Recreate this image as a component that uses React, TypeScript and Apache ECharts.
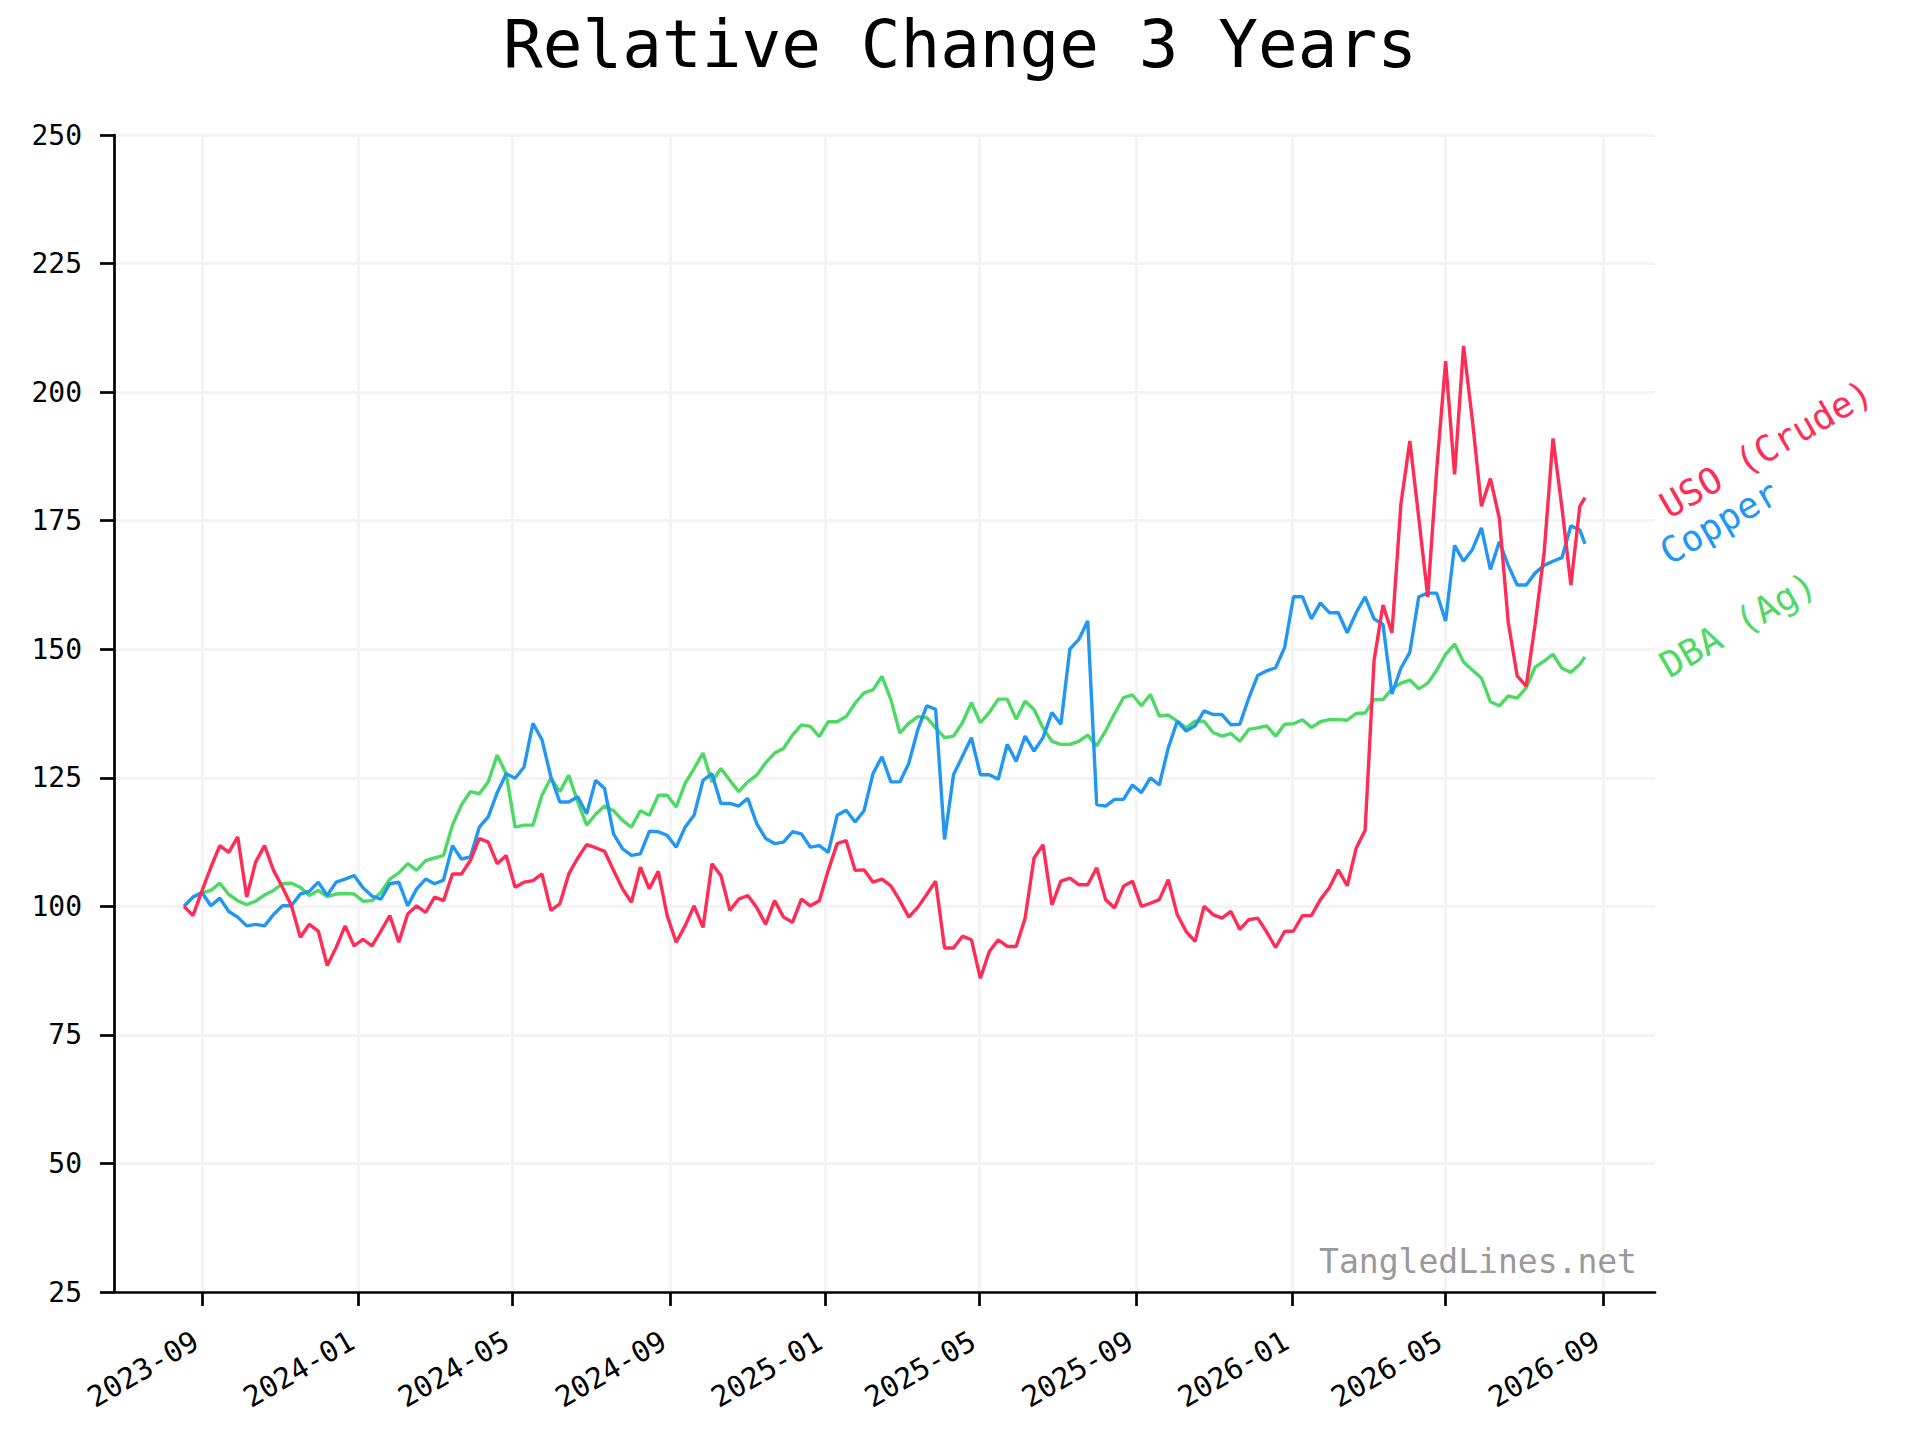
import { useEffect, useRef } from "react";
import * as echarts from "echarts";

const DAY = 86400000;

// weekly closes, rebased to 100 on the first day
const startDate = Date.UTC(2023, 7, 18);
const endDate = Date.UTC(2026, 7, 18);
const dates = [...Array.from({ length: 157 }, (_, i) => startDate + i * 7 * DAY), endDate];

const usoValues = [
  100, 98.2, 103, 107.6, 111.8, 110.5, 113.5, 101.8, 108.6, 111.8,
  107, 103.7, 100.1, 94, 96.5, 95.2, 88.5, 92, 96.2, 92.3,
  93.6, 92.3, 95.2, 98.2, 93, 98.5, 100.1, 98.8, 101.8, 101.1,
  106.3, 106.3, 108.9, 113.2, 112.5, 108.3, 109.9, 103.7, 104.7, 105,
  106.3, 99.2, 100.5, 106.3, 109.4, 112, 111.4, 110.7, 107, 103.4,
  100.8, 107.6, 103.4, 106.8, 98.2, 93, 96.2, 100.1, 95.9, 108.3,
  106, 99.2, 101.4, 102.1, 99.8, 96.5, 101.1, 97.9, 96.9, 101.4,
  100.1, 101.1, 107, 112.2, 112.8, 107, 107.1, 104.7, 105.3, 104,
  101.1, 97.9, 99.8, 102.3, 104.9, 91.9, 91.9, 94.2, 93.5, 86,
  91.2, 93.5, 92.2, 92.2, 97.7, 109.4, 112, 100.3, 104.9, 105.5,
  104.2, 104.2, 107.5, 101.3, 99.7, 103.9, 104.9, 100, 100.6, 101.3,
  105.2, 98.4, 95.1, 93.2, 100, 98.4, 97.7, 99, 95.5, 97.4,
  97.7, 95, 92, 95.1, 95.2, 98.2, 98.2, 101.3, 103.6, 107.1,
  104, 111.3, 114.8, 147.8, 158.6, 153.2, 178.2, 190.5, 175.5, 160.2,
  184.9, 206, 184, 209, 194.4, 177.8, 183.2, 175.5, 155.2, 144.8,
  142.8, 154.8, 168.6, 191, 177.5, 162.5, 177.8, 179.5,
];

const copperValues = [
  100, 101.8, 102.7, 100.1, 101.6, 99, 97.9, 96.2, 96.5, 96.2,
  98.4, 100.1, 100.1, 102.4, 102.9, 104.7, 102.1, 104.7, 105.3, 106,
  103.6, 102, 101.4, 104.4, 104.7, 100.1, 103.4, 105.3, 104.4, 105.1,
  111.8, 109.2, 109.6, 115.4, 117.4, 122.1, 125.8, 124.9, 127.1, 135.6,
  132.4, 125.2, 120.3, 120.3, 121.3, 118, 124.5, 122.9, 114.1, 111.2,
  109.9, 110.2, 114.6, 114.5, 113.8, 111.5, 115.4, 117.7, 124.5, 125.8,
  120, 120, 119.5, 121, 116.1, 113.2, 112.2, 112.5, 114.5, 114.1,
  111.5, 111.8, 110.5, 117.7, 118.7, 116.4, 118.6, 125.8, 129.1, 124.2,
  124.2, 127.8, 134.3, 139, 138.3, 113, 125.6, 129.2, 132.8, 125.6,
  125.6, 124.7, 131.5, 128.2, 133.1, 130.2, 132.8, 137.7, 135.4, 150,
  151.9, 155.5, 119.8, 119.5, 120.8, 120.8, 123.6, 122.1, 125, 123.6,
  130.8, 136, 134.1, 135.1, 138, 137.3, 137.3, 135.3, 135.4, 140.5,
  144.9, 145.8, 146.4, 150.3, 160.2, 160.2, 155.9, 159, 157.1, 157.1,
  153.2, 157.1, 160.2, 155.9, 154.8, 141.3, 146.3, 149.4, 160.2, 160.9,
  160.9, 155.5, 170.2, 167.1, 169.4, 173.6, 165.5, 170.9, 166.3, 162.5,
  162.5, 164.8, 166.3, 167.1, 167.8, 174, 173.2, 170.5,
];

const dbaValues = [
  100, 101.8, 102.6, 103.1, 104.5, 102.3, 101.1, 100.3, 101, 102.2,
  103.1, 104.4, 104.5, 103.7, 102.1, 103.1, 101.9, 102.4, 102.5, 102.4,
  101, 101.1, 102.7, 105.3, 106.5, 108.3, 107, 108.9, 109.4, 109.9,
  115.8, 119.7, 122.3, 121.9, 124.2, 129.4, 125.8, 115.4, 115.8, 115.8,
  121.6, 124.9, 122.3, 125.5, 120.3, 115.8, 117.9, 119.5, 118.6, 116.7,
  115.4, 118.6, 117.7, 121.6, 121.6, 119.3, 123.9, 126.8, 129.8, 124.2,
  126.8, 124.5, 122.3, 124.2, 125.5, 127.9, 129.8, 130.7, 133.3, 135.3,
  135, 133, 135.9, 135.9, 136.9, 139.5, 141.5, 142.1, 144.7, 140.2,
  133.7, 135.6, 136.9, 136.7, 134.7, 132.8, 133.1, 135.7, 139.6, 135.7,
  137.7, 140.3, 140.3, 136.4, 139.9, 138.3, 134.7, 132.1, 131.5, 131.5,
  132.1, 133.3, 131.2, 134.1, 137.5, 140.6, 141.1, 139, 141.2, 137,
  137.2, 136, 134.7, 136, 136, 133.8, 133.1, 133.6, 132.1, 134.4,
  134.7, 135.1, 133.1, 135.4, 135.5, 136.3, 134.8, 135.9, 136.3, 136.3,
  136.2, 137.5, 137.6, 140.2, 140.2, 142.3, 143.4, 144, 142.3, 143.4,
  145.9, 149, 151, 147.5, 145.9, 144.4, 139.8, 139, 140.9, 140.5,
  142.5, 146.5, 147.7, 149, 146.3, 145.5, 147.1, 148.5,
];

const tickLabels = [
  "2023-09", "2024-01", "2024-05", "2024-09", "2025-01",
  "2025-05", "2025-09", "2026-01", "2026-05", "2026-09",
];

const seriesNames = ["DBA (Ag)", "Copper", "USO (Crude)"];
const seriesColors = ["#4cd964", "#2196f3", "#ff2d55"];
const seriesData = [dbaValues, copperValues, usoValues];

const FONT = '"DejaVu Sans Mono", monospace';

export default function App() {
  const chartRef = useRef<HTMLDivElement>(null);

  useEffect(() => {
    if (!chartRef.current) return;
    const chart = echarts.init(chartRef.current, null, { renderer: "svg" });

    const tickValues = tickLabels.map((t) => {
      const [y, m] = t.split("-").map(Number);
      return Date.UTC(y, m - 1, 1);
    });
    const span = endDate - startDate;

    chart.setOption({
      animation: false,
      backgroundColor: "#ffffff",
      title: {
        text: "Relative Change 3 Years",
        left: "center",
        top: 11,
        padding: 0,
        textStyle: {
          fontFamily: FONT,
          fontSize: 66,
          fontWeight: "normal",
          color: "#000000",
        },
      },
      grid: { left: 114, right: 265, top: 135, bottom: 148 },
      xAxis: {
        type: "value",
        min: startDate - span * 0.05,
        max: endDate + span * 0.05,
        axisLine: { lineStyle: { color: "#000000", width: 2.7 } },
        axisTick: {
          show: true,
          customValues: tickValues,
          length: 14,
          lineStyle: { color: "#000000", width: 2.7 },
        },
        axisLabel: {
          customValues: tickValues,
          rotate: 30,
          margin: 43,
          padding: [0, 7, 0, 0],
          fontFamily: FONT,
          fontSize: 29,
          color: "#000000",
          formatter: (v: number) => {
            const d = new Date(v);
            return `${d.getUTCFullYear()}-${String(d.getUTCMonth() + 1).padStart(2, "0")}`;
          },
        },
        splitLine: { show: true, lineStyle: { color: "#f4f4f4", width: 3 } },
      },
      yAxis: {
        type: "value",
        min: 25,
        max: 250,
        interval: 25,
        axisLine: { show: true, lineStyle: { color: "#000000", width: 2.7 } },
        axisTick: { show: true, length: 14, lineStyle: { color: "#000000", width: 2.7 } },
        axisLabel: { margin: 32, fontFamily: FONT, fontSize: 28, color: "#000000" },
        splitLine: { show: true, lineStyle: { color: "#f4f4f4", width: 3 } },
      },
      series: seriesNames.map((name, k) => ({
        name,
        type: "line",
        data: dates.map((d, i) => [d, seriesData[k][i]]),
        showSymbol: false,
        silent: true,
        lineStyle: { color: seriesColors[k], width: 3.4 },
        itemStyle: { color: seriesColors[k] },
      })),
    });

    // rotated end labels next to the last point of each line
    const last = dates.length - 1;
    const labels = seriesNames.map((name, k) => {
      const [px, py] = chart.convertToPixel({ gridIndex: 0 }, [dates[last], seriesData[k][last]]);
      return {
        type: "text",
        x: px + 78,
        y: py + 11,
        rotation: Math.PI / 6,
        style: {
          text: name,
          fill: seriesColors[k],
          font: `36px ${FONT}`,
          align: "left",
          verticalAlign: "middle",
        },
      };
    });

    chart.setOption({
      graphic: [
        ...labels,
        {
          type: "text",
          x: 1637,
          y: 1261,
          style: {
            text: "TangledLines.net",
            fill: "#999999",
            font: `33px ${FONT}`,
            align: "right",
            verticalAlign: "middle",
          },
        },
      ],
    });

    return () => {
      chart.dispose();
    };
  }, []);

  return (
    <div
      ref={chartRef}
      style={{ position: "absolute", left: 0, top: 0, width: "1920px", height: "1440px", background: "#ffffff" }}
    ></div>
  );
}
